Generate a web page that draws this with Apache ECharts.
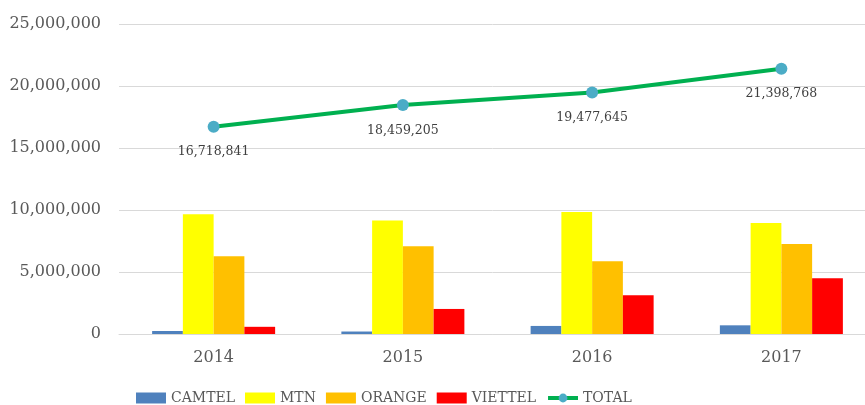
<!DOCTYPE html>
<html>
<head>
<meta charset="utf-8">
<script src="https://cdn.jsdelivr.net/npm/echarts@6/dist/echarts.min.js"></script>
<style>
  html, body { margin: 0; padding: 0; background: #fff; }
  #chart { width: 865px; height: 405px; }
</style>
</head>
<body>
<div id="chart"></div>
<script>
const years = ['2014', '2015', '2016', '2017']
const camtel = [240000, 200000, 650000, 700000]
const mtn = [9650000, 9150000, 9830000, 8950000]
const orange = [6270000, 7070000, 5870000, 7250000]
const viettel = [580000, 2020000, 3120000, 4500000]
const total = [16718841, 18459205, 19477645, 21398768]

const font = 'DejaVu Serif'
const fmt = (v) => Number(v).toLocaleString('en-US')

const chart = echarts.init(document.getElementById('chart'))

const barSeries = (name, data, color) => ({
  name,
  type: 'bar',
  data,
  barGap: '0%',
  barCategoryGap: '35%',
  itemStyle: { color },
})

const options = {
  animation: false,
  textStyle: { fontFamily: font },
  grid: {
    left: 119,
    width: 757,
    top: 24,
    height: 310,
    outerBoundsMode: 'none',
  },
  legend: {
    left: 131,
    top: 386,
    itemWidth: 30,
    itemHeight: 11,
    itemGap: 10,
    textStyle: { fontFamily: font, fontSize: 14, color: '#595959' },
    data: [
      { name: 'CAMTEL', icon: 'rect' },
      { name: 'MTN', icon: 'rect' },
      { name: 'ORANGE', icon: 'rect' },
      { name: 'VIETTEL', icon: 'rect' },
      { name: 'TOTAL', lineStyle: { width: 4 } },
    ],
  },
  xAxis: {
    type: 'category',
    data: years,
    axisTick: { show: false },
    axisLine: { lineStyle: { color: '#D9D9D9', width: 1 } },
    axisLabel: { fontFamily: font, fontSize: 16, color: '#595959', margin: 16 },
  },
  yAxis: {
    type: 'value',
    min: 0,
    max: 25000000,
    interval: 5000000,
    axisLine: { show: false },
    axisTick: { show: false },
    splitLine: { lineStyle: { color: '#D9D9D9', width: 1 } },
    axisLabel: {
      fontFamily: font,
      fontSize: 16,
      color: '#595959',
      margin: 18,
      formatter: (v) => fmt(v),
    },
  },
  series: [
    barSeries('CAMTEL', camtel, '#4F81BD'),
    barSeries('MTN', mtn, '#FFFF00'),
    barSeries('ORANGE', orange, '#FFC000'),
    barSeries('VIETTEL', viettel, '#FF0000'),
    {
      name: 'TOTAL',
      type: 'line',
      data: total,
      symbol: 'circle',
      symbolSize: 12,
      lineStyle: { color: '#00B050', width: 4 },
      itemStyle: { color: '#4BACC6' },
      label: {
        show: true,
        position: 'bottom',
        distance: 13,
        fontFamily: font,
        fontSize: 12.5,
        color: '#404040',
        formatter: (p) => fmt(p.value),
      },
    },
  ],
}

chart.setOption(options, true)
</script>
</body>
</html>
